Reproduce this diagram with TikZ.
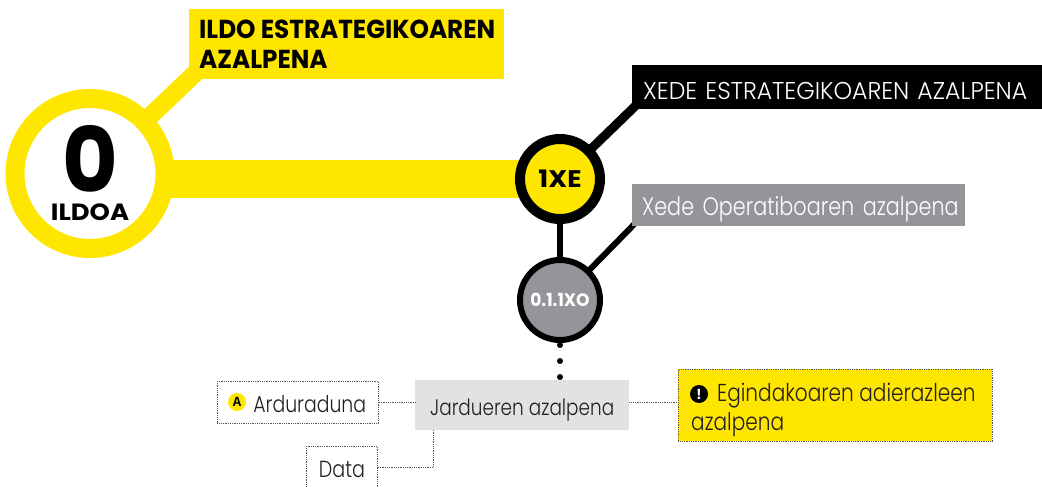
\documentclass[tikz,border=0pt]{standalone}
\usepackage{fontspec}
\usetikzlibrary{backgrounds}
\pgfdeclarelayer{bottom}
\pgfsetlayers{bottom,background,main}
\IfFontExistsTF{Poppins Light}
 {\newfontfamily\futLu{Poppins Light}[FakeStretch=0.97]
  \newfontfamily\futLl{Poppins Light}[FakeStretch=0.82]}
 {\newfontfamily\futLu{Poppins}[FakeStretch=0.97]
  \newfontfamily\futLl{Poppins}[FakeStretch=0.82]}
\newfontfamily\futB{Poppins}[FakeStretch=0.95]
\newfontfamily\futBw{Poppins}[FakeStretch=1.1]
\newfontfamily\monoB{Liberation Mono}
\definecolor{yel}{RGB}{255,230,0}
\definecolor{gry}{RGB}{147,149,152}
\definecolor{lgry}{RGB}{225,226,228}
\definecolor{ink}{RGB}{35,31,32}
\definecolor{dotc}{RGB}{85,85,85}
\tikzset{
  ringnode/.style={circle, inner sep=0pt, minimum size=#1},
  boldtxt/.style={font=\futB\bfseries\fontsize{#1}{#1}\selectfont},
  boldwide/.style={font=\futBw\bfseries\fontsize{#1}{#1}\selectfont},
  capstxt/.style={font=\futLu\fontsize{#1}{#1}\selectfont},
  lighttxt/.style={font=\futLl\fontsize{#1}{#1}\selectfont},
  dotl/.style={draw=dotc, line width=0.9pt, dash pattern=on 0.9pt off 0.9pt},
  boxnode/.style={rectangle, anchor=north west, inner ysep=0pt, text depth=0pt},
}
\begin{document}
\begin{tikzpicture}[x=1pt,y=-1pt]
\useasboundingbox (0,0) rectangle (1042,487);
\begin{pgfonlayer}{bottom}
  \fill[white] (0,0) rectangle (1042,487);
\end{pgfonlayer}

% big circle ILDOA
\node[ringnode=150pt, draw=yel, line width=19pt, fill=white, align=center,
      font=\futBw\bfseries\fontsize{23.5}{28}\selectfont] (c0) at (90,173.5)
      {{\futB\fontsize{90}{90}\selectfont 0}\\ILDOA};

% yellow label
\node[boxnode, fill=yel, minimum width=315pt, minimum height=70pt] (lbl0) at (189,9) {};
\node[boldtxt=26, anchor=base west, inner sep=0pt] (lbl0a) at (199,39) {ILDO ESTRATEGIKOAREN};
\node[boldtxt=26, anchor=base west, inner sep=0pt] (lbl0b) at (199,69) {AZALPENA};

% 1XE circle
\node[ringnode=80pt, draw=black, line width=10pt, fill=yel, boldwide=24] (c1) at (560,179) {1XE};

% black label
\node[boxnode, fill=black, text=white, inner xsep=11pt, text width=388pt, align=left,
      minimum height=44pt, text height=24pt, capstxt=24.3] (lbl1) at (632,65)
      {\mbox{XEDE ESTRATEGIKOAREN AZALPENA}};

% grey label
\node[boxnode, fill=gry, text=white, inner xsep=10pt, text width=313pt, align=left,
      minimum height=42pt, text height=20pt, lighttxt=25.3] (lbl2) at (632,184)
      {\mbox{Xede Operatiboaren azalpena}};

% 0.1.1XO circle
\node[ringnode=80pt, draw=black, line width=6pt, fill=gry, text=white, boldtxt=18] (c2) at (560,300) {0.1.1XO};

% activity box
\node[boxnode, fill=lgry, text=ink, minimum width=214pt, minimum height=50pt,
      text height=20pt, lighttxt=22.5] (jard) at (415,380) {Jardueren azalpena};

% responsible
\node[boxnode, dotl, text=ink, inner xsep=0pt, text width=161pt, align=left,
      minimum height=42pt, text height=20pt, lighttxt=23] (ard) at (217,381)
      {\hspace*{36pt}\mbox{Arduraduna}};
\node[circle, fill=yel, inner sep=0pt, minimum size=18pt, font=\monoB\bfseries\fontsize{14}{14}\selectfont] (aic) at (237,402) {A};

% date
\node[boxnode, dotl, text=ink, minimum width=71pt, minimum height=49pt,
      text height=13pt, lighttxt=23.3] (data) at (306,446) {Data};

% indicators
\node[boxnode, dotl, fill=yel, minimum width=314pt, minimum height=72pt] (egin) at (678,369) {};
\node[lighttxt=24.5, text=ink, anchor=base west, inner sep=0pt] (egina) at (717,401) {Egindakoaren adierazleen};
\node[lighttxt=24.5, text=ink, anchor=base west, inner sep=0pt] (eginb) at (691,430) {azalpena};
\node[circle, fill=black, text=white, inner sep=0pt, minimum size=18pt, boldtxt=14] (exc) at (699,394) {!};

\begin{scope}[on background layer]
  \draw[yel, line width=38pt] (c0.center |- c1.center) -- (c1.center);
  \draw[yel, line width=18pt] ([xshift=7pt,yshift=7pt]lbl0.south west) -- (c0.center);
  \draw[black, line width=9pt] (c1.center) -- ([xshift=5pt,yshift=5pt]lbl1.south west);
  \draw[black, line width=6pt] (c1.center) -- (c2.center);
  \draw[black, line width=6pt] (c2.center) -- ([xshift=4pt,yshift=4pt]lbl2.south west);
  \draw[black, line width=6pt, line cap=round, dash pattern=on 0pt off 16pt, shorten <=2pt]
      (c2.south) -- (c2.south |- jard.north);
\end{scope}

\draw[dotl] (ard.east) -- (ard.east -| jard.west);
\draw[dotl] ([yshift=3pt]jard.east) -- ([yshift=3pt]jard.east -| egin.west);
\draw[dotl] ([yshift=3.5pt]data.east) -| ([xshift=18pt]jard.south west);
\end{tikzpicture}
\end{document}
